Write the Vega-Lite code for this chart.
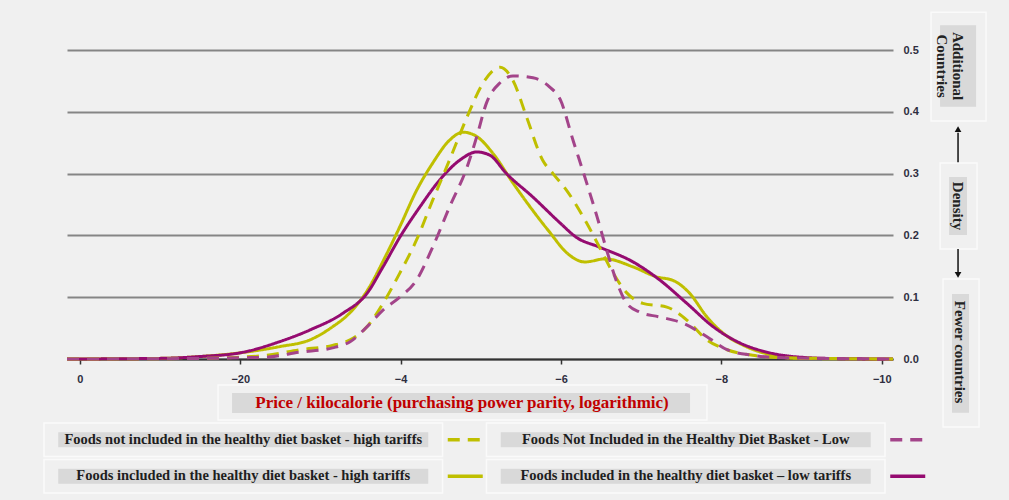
{
  "$schema": "https://vega.github.io/schema/vega-lite/v6.json",
  "width": 826,
  "height": 309,
  "autosize": {"type": "none"},
  "padding": {"left": 67, "top": 50, "right": 116, "bottom": 141},
  "background": "#f0f0f0",
  "config": {"view": {"stroke": null}},
  "datasets": {
    "curves": [
      {"series": "Foods included in the healthy diet basket - high tariffs", "basket": "included", "x": 0.16, "density": 0},
      {"series": "Foods included in the healthy diet basket - high tariffs", "basket": "included", "x": -1, "density": 0.001},
      {"series": "Foods included in the healthy diet basket - high tariffs", "basket": "included", "x": -1.5, "density": 0.004},
      {"series": "Foods included in the healthy diet basket - high tariffs", "basket": "included", "x": -2, "density": 0.01},
      {"series": "Foods included in the healthy diet basket - high tariffs", "basket": "included", "x": -2.49, "density": 0.02},
      {"series": "Foods included in the healthy diet basket - high tariffs", "basket": "included", "x": -2.87, "density": 0.031},
      {"series": "Foods included in the healthy diet basket - high tariffs", "basket": "included", "x": -3.15, "density": 0.052},
      {"series": "Foods included in the healthy diet basket - high tariffs", "basket": "included", "x": -3.37, "density": 0.075},
      {"series": "Foods included in the healthy diet basket - high tariffs", "basket": "included", "x": -3.58, "density": 0.11},
      {"series": "Foods included in the healthy diet basket - high tariffs", "basket": "included", "x": -3.83, "density": 0.171},
      {"series": "Foods included in the healthy diet basket - high tariffs", "basket": "included", "x": -3.99, "density": 0.214},
      {"series": "Foods included in the healthy diet basket - high tariffs", "basket": "included", "x": -4.2, "density": 0.273},
      {"series": "Foods included in the healthy diet basket - high tariffs", "basket": "included", "x": -4.4, "density": 0.317},
      {"series": "Foods included in the healthy diet basket - high tariffs", "basket": "included", "x": -4.61, "density": 0.354},
      {"series": "Foods included in the healthy diet basket - high tariffs", "basket": "included", "x": -4.78, "density": 0.367},
      {"series": "Foods included in the healthy diet basket - high tariffs", "basket": "included", "x": -4.95, "density": 0.36},
      {"series": "Foods included in the healthy diet basket - high tariffs", "basket": "included", "x": -5.15, "density": 0.333},
      {"series": "Foods included in the healthy diet basket - high tariffs", "basket": "included", "x": -5.4, "density": 0.285},
      {"series": "Foods included in the healthy diet basket - high tariffs", "basket": "included", "x": -5.65, "density": 0.24},
      {"series": "Foods included in the healthy diet basket - high tariffs", "basket": "included", "x": -5.86, "density": 0.205},
      {"series": "Foods included in the healthy diet basket - high tariffs", "basket": "included", "x": -6.07, "density": 0.172},
      {"series": "Foods included in the healthy diet basket - high tariffs", "basket": "included", "x": -6.3, "density": 0.157},
      {"series": "Foods included in the healthy diet basket - high tariffs", "basket": "included", "x": -6.55, "density": 0.162},
      {"series": "Foods included in the healthy diet basket - high tariffs", "basket": "included", "x": -6.9, "density": 0.149},
      {"series": "Foods included in the healthy diet basket - high tariffs", "basket": "included", "x": -7.19, "density": 0.133},
      {"series": "Foods included in the healthy diet basket - high tariffs", "basket": "included", "x": -7.4, "density": 0.127},
      {"series": "Foods included in the healthy diet basket - high tariffs", "basket": "included", "x": -7.6, "density": 0.107},
      {"series": "Foods included in the healthy diet basket - high tariffs", "basket": "included", "x": -7.82, "density": 0.068},
      {"series": "Foods included in the healthy diet basket - high tariffs", "basket": "included", "x": -8.02, "density": 0.042},
      {"series": "Foods included in the healthy diet basket - high tariffs", "basket": "included", "x": -8.31, "density": 0.02},
      {"series": "Foods included in the healthy diet basket - high tariffs", "basket": "included", "x": -8.64, "density": 0.006},
      {"series": "Foods included in the healthy diet basket - high tariffs", "basket": "included", "x": -8.98, "density": 0.001},
      {"series": "Foods included in the healthy diet basket - high tariffs", "basket": "included", "x": -10.14, "density": 0},

      {"series": "Foods included in the healthy diet basket – low tariffs", "basket": "included", "x": 0.16, "density": 0},
      {"series": "Foods included in the healthy diet basket – low tariffs", "basket": "included", "x": -1, "density": 0.001},
      {"series": "Foods included in the healthy diet basket – low tariffs", "basket": "included", "x": -1.5, "density": 0.004},
      {"series": "Foods included in the healthy diet basket – low tariffs", "basket": "included", "x": -2, "density": 0.01},
      {"series": "Foods included in the healthy diet basket – low tariffs", "basket": "included", "x": -2.49, "density": 0.028},
      {"series": "Foods included in the healthy diet basket – low tariffs", "basket": "included", "x": -2.87, "density": 0.047},
      {"series": "Foods included in the healthy diet basket – low tariffs", "basket": "included", "x": -3.28, "density": 0.074},
      {"series": "Foods included in the healthy diet basket – low tariffs", "basket": "included", "x": -3.58, "density": 0.106},
      {"series": "Foods included in the healthy diet basket – low tariffs", "basket": "included", "x": -3.78, "density": 0.149},
      {"series": "Foods included in the healthy diet basket – low tariffs", "basket": "included", "x": -3.99, "density": 0.197},
      {"series": "Foods included in the healthy diet basket – low tariffs", "basket": "included", "x": -4.24, "density": 0.246},
      {"series": "Foods included in the healthy diet basket – low tariffs", "basket": "included", "x": -4.49, "density": 0.29},
      {"series": "Foods included in the healthy diet basket – low tariffs", "basket": "included", "x": -4.74, "density": 0.322},
      {"series": "Foods included in the healthy diet basket – low tariffs", "basket": "included", "x": -4.95, "density": 0.335},
      {"series": "Foods included in the healthy diet basket – low tariffs", "basket": "included", "x": -5.11, "density": 0.33},
      {"series": "Foods included in the healthy diet basket – low tariffs", "basket": "included", "x": -5.32, "density": 0.3},
      {"series": "Foods included in the healthy diet basket – low tariffs", "basket": "included", "x": -5.65, "density": 0.262},
      {"series": "Foods included in the healthy diet basket – low tariffs", "basket": "included", "x": -5.99, "density": 0.22},
      {"series": "Foods included in the healthy diet basket – low tariffs", "basket": "included", "x": -6.19, "density": 0.197},
      {"series": "Foods included in the healthy diet basket – low tariffs", "basket": "included", "x": -6.48, "density": 0.181},
      {"series": "Foods included in the healthy diet basket – low tariffs", "basket": "included", "x": -6.9, "density": 0.157},
      {"series": "Foods included in the healthy diet basket – low tariffs", "basket": "included", "x": -7.23, "density": 0.128},
      {"series": "Foods included in the healthy diet basket – low tariffs", "basket": "included", "x": -7.57, "density": 0.09},
      {"series": "Foods included in the healthy diet basket – low tariffs", "basket": "included", "x": -7.9, "density": 0.052},
      {"series": "Foods included in the healthy diet basket – low tariffs", "basket": "included", "x": -8.23, "density": 0.026},
      {"series": "Foods included in the healthy diet basket – low tariffs", "basket": "included", "x": -8.57, "density": 0.011},
      {"series": "Foods included in the healthy diet basket – low tariffs", "basket": "included", "x": -8.98, "density": 0.003},
      {"series": "Foods included in the healthy diet basket – low tariffs", "basket": "included", "x": -9.5, "density": 0.0005},
      {"series": "Foods included in the healthy diet basket – low tariffs", "basket": "included", "x": -10.14, "density": 0},

      {"series": "Foods not included in the healthy diet basket - high tariffs", "basket": "not included", "x": 0.16, "density": 0},
      {"series": "Foods not included in the healthy diet basket - high tariffs", "basket": "not included", "x": -1.5, "density": 0.001},
      {"series": "Foods not included in the healthy diet basket - high tariffs", "basket": "not included", "x": -2, "density": 0.003},
      {"series": "Foods not included in the healthy diet basket - high tariffs", "basket": "not included", "x": -2.33, "density": 0.006},
      {"series": "Foods not included in the healthy diet basket - high tariffs", "basket": "not included", "x": -2.74, "density": 0.015},
      {"series": "Foods not included in the healthy diet basket - high tariffs", "basket": "not included", "x": -3.15, "density": 0.022},
      {"series": "Foods not included in the healthy diet basket - high tariffs", "basket": "not included", "x": -3.37, "density": 0.031},
      {"series": "Foods not included in the healthy diet basket - high tariffs", "basket": "not included", "x": -3.58, "density": 0.052},
      {"series": "Foods not included in the healthy diet basket - high tariffs", "basket": "not included", "x": -3.78, "density": 0.09},
      {"series": "Foods not included in the healthy diet basket - high tariffs", "basket": "not included", "x": -3.99, "density": 0.139},
      {"series": "Foods not included in the healthy diet basket - high tariffs", "basket": "not included", "x": -4.2, "density": 0.193},
      {"series": "Foods not included in the healthy diet basket - high tariffs", "basket": "not included", "x": -4.4, "density": 0.257},
      {"series": "Foods not included in the healthy diet basket - high tariffs", "basket": "not included", "x": -4.61, "density": 0.322},
      {"series": "Foods not included in the healthy diet basket - high tariffs", "basket": "not included", "x": -4.83, "density": 0.392},
      {"series": "Foods not included in the healthy diet basket - high tariffs", "basket": "not included", "x": -5.03, "density": 0.447},
      {"series": "Foods not included in the healthy diet basket - high tariffs", "basket": "not included", "x": -5.24, "density": 0.472},
      {"series": "Foods not included in the healthy diet basket - high tariffs", "basket": "not included", "x": -5.4, "density": 0.451},
      {"series": "Foods not included in the healthy diet basket - high tariffs", "basket": "not included", "x": -5.57, "density": 0.392},
      {"series": "Foods not included in the healthy diet basket - high tariffs", "basket": "not included", "x": -5.77, "density": 0.322},
      {"series": "Foods not included in the healthy diet basket - high tariffs", "basket": "not included", "x": -5.9, "density": 0.3},
      {"series": "Foods not included in the healthy diet basket - high tariffs", "basket": "not included", "x": -6.07, "density": 0.273},
      {"series": "Foods not included in the healthy diet basket - high tariffs", "basket": "not included", "x": -6.32, "density": 0.22},
      {"series": "Foods not included in the healthy diet basket - high tariffs", "basket": "not included", "x": -6.48, "density": 0.181},
      {"series": "Foods not included in the healthy diet basket - high tariffs", "basket": "not included", "x": -6.65, "density": 0.139},
      {"series": "Foods not included in the healthy diet basket - high tariffs", "basket": "not included", "x": -6.82, "density": 0.107},
      {"series": "Foods not included in the healthy diet basket - high tariffs", "basket": "not included", "x": -7.02, "density": 0.09},
      {"series": "Foods not included in the healthy diet basket - high tariffs", "basket": "not included", "x": -7.32, "density": 0.084},
      {"series": "Foods not included in the healthy diet basket - high tariffs", "basket": "not included", "x": -7.57, "density": 0.063},
      {"series": "Foods not included in the healthy diet basket - high tariffs", "basket": "not included", "x": -7.82, "density": 0.031},
      {"series": "Foods not included in the healthy diet basket - high tariffs", "basket": "not included", "x": -8.07, "density": 0.015},
      {"series": "Foods not included in the healthy diet basket - high tariffs", "basket": "not included", "x": -8.39, "density": 0.006},
      {"series": "Foods not included in the healthy diet basket - high tariffs", "basket": "not included", "x": -8.77, "density": 0.002},
      {"series": "Foods not included in the healthy diet basket - high tariffs", "basket": "not included", "x": -10.14, "density": 0},

      {"series": "Foods Not Included in the Healthy Diet Basket - Low", "basket": "not included", "x": 0.16, "density": 0},
      {"series": "Foods Not Included in the Healthy Diet Basket - Low", "basket": "not included", "x": -1.5, "density": 0.001},
      {"series": "Foods Not Included in the Healthy Diet Basket - Low", "basket": "not included", "x": -2, "density": 0.002},
      {"series": "Foods Not Included in the Healthy Diet Basket - Low", "basket": "not included", "x": -2.33, "density": 0.003},
      {"series": "Foods Not Included in the Healthy Diet Basket - Low", "basket": "not included", "x": -2.74, "density": 0.011},
      {"series": "Foods Not Included in the Healthy Diet Basket - Low", "basket": "not included", "x": -3.15, "density": 0.018},
      {"series": "Foods Not Included in the Healthy Diet Basket - Low", "basket": "not included", "x": -3.37, "density": 0.028},
      {"series": "Foods Not Included in the Healthy Diet Basket - Low", "basket": "not included", "x": -3.58, "density": 0.052},
      {"series": "Foods Not Included in the Healthy Diet Basket - Low", "basket": "not included", "x": -3.78, "density": 0.079},
      {"series": "Foods Not Included in the Healthy Diet Basket - Low", "basket": "not included", "x": -3.99, "density": 0.1},
      {"series": "Foods Not Included in the Healthy Diet Basket - Low", "basket": "not included", "x": -4.2, "density": 0.128},
      {"series": "Foods Not Included in the Healthy Diet Basket - Low", "basket": "not included", "x": -4.4, "density": 0.181},
      {"series": "Foods Not Included in the Healthy Diet Basket - Low", "basket": "not included", "x": -4.61, "density": 0.246},
      {"series": "Foods Not Included in the Healthy Diet Basket - Low", "basket": "not included", "x": -4.83, "density": 0.311},
      {"series": "Foods Not Included in the Healthy Diet Basket - Low", "basket": "not included", "x": -4.95, "density": 0.36},
      {"series": "Foods Not Included in the Healthy Diet Basket - Low", "basket": "not included", "x": -5.07, "density": 0.414},
      {"series": "Foods Not Included in the Healthy Diet Basket - Low", "basket": "not included", "x": -5.24, "density": 0.447},
      {"series": "Foods Not Included in the Healthy Diet Basket - Low", "basket": "not included", "x": -5.4, "density": 0.458},
      {"series": "Foods Not Included in the Healthy Diet Basket - Low", "basket": "not included", "x": -5.65, "density": 0.455},
      {"series": "Foods Not Included in the Healthy Diet Basket - Low", "basket": "not included", "x": -5.86, "density": 0.44},
      {"series": "Foods Not Included in the Healthy Diet Basket - Low", "basket": "not included", "x": -5.99, "density": 0.42},
      {"series": "Foods Not Included in the Healthy Diet Basket - Low", "basket": "not included", "x": -6.15, "density": 0.354},
      {"series": "Foods Not Included in the Healthy Diet Basket - Low", "basket": "not included", "x": -6.32, "density": 0.285},
      {"series": "Foods Not Included in the Healthy Diet Basket - Low", "basket": "not included", "x": -6.45, "density": 0.23},
      {"series": "Foods Not Included in the Healthy Diet Basket - Low", "basket": "not included", "x": -6.57, "density": 0.176},
      {"series": "Foods Not Included in the Healthy Diet Basket - Low", "basket": "not included", "x": -6.7, "density": 0.123},
      {"series": "Foods Not Included in the Healthy Diet Basket - Low", "basket": "not included", "x": -6.82, "density": 0.09},
      {"series": "Foods Not Included in the Healthy Diet Basket - Low", "basket": "not included", "x": -6.98, "density": 0.076},
      {"series": "Foods Not Included in the Healthy Diet Basket - Low", "basket": "not included", "x": -7.23, "density": 0.068},
      {"series": "Foods Not Included in the Healthy Diet Basket - Low", "basket": "not included", "x": -7.52, "density": 0.058},
      {"series": "Foods Not Included in the Healthy Diet Basket - Low", "basket": "not included", "x": -7.82, "density": 0.036},
      {"series": "Foods Not Included in the Healthy Diet Basket - Low", "basket": "not included", "x": -8.07, "density": 0.015},
      {"series": "Foods Not Included in the Healthy Diet Basket - Low", "basket": "not included", "x": -8.39, "density": 0.006},
      {"series": "Foods Not Included in the Healthy Diet Basket - Low", "basket": "not included", "x": -8.77, "density": 0.002},
      {"series": "Foods Not Included in the Healthy Diet Basket - Low", "basket": "not included", "x": -10.14, "density": 0}
    ],
    "legendItems": [
      {"series": "Foods not included in the healthy diet basket - high tariffs", "basket": "not included", "tariff": "high"},
      {"series": "Foods included in the healthy diet basket - high tariffs", "basket": "included", "tariff": "high"},
      {"series": "Foods Not Included in the Healthy Diet Basket - Low", "basket": "not included", "tariff": "low"},
      {"series": "Foods included in the healthy diet basket – low tariffs", "basket": "included", "tariff": "low"}
    ]
  },
  "layer": [
    {
      "layer": [
        {
          "data": {"name": "curves"},
          "mark": {"type": "line", "interpolate": "monotone", "strokeWidth": 3, "strokeCap": "butt"},
          "encoding": {
            "x": {
              "field": "x", "type": "quantitative",
              "scale": {"domain": [0.16, -10.14], "nice": false, "zero": false},
              "axis": {
                "values": [0, -2, -4, -6, -8, -10],
                "labelExpr": "datum.value == -2 ? '−20' : (datum.value == 0 ? '0' : '−' + abs(datum.value))",
                "title": null, "grid": false,
                "domainColor": "#333333", "domainWidth": 2,
                "tickColor": "#333333", "tickSize": 5, "tickWidth": 1.5,
                "labelFont": "Liberation Sans", "labelFontWeight": "bold", "labelFontSize": 11,
                "labelColor": "#2e2e40", "labelPadding": 9
              }
            },
            "y": {
              "field": "density", "type": "quantitative",
              "scale": {"domain": [0, 0.5], "nice": false},
              "axis": {
                "orient": "right", "values": [0, 0.1, 0.2, 0.3, 0.4, 0.5], "format": ".1f",
                "title": null, "grid": true, "gridColor": "#858585", "gridWidth": 1.8,
                "domain": false, "ticks": false,
                "labelFont": "Liberation Sans", "labelFontWeight": "bold", "labelFontSize": 11,
                "labelColor": "#2e2e40", "labelPadding": 10
              }
            },
            "color": {
              "field": "series", "type": "nominal", "legend": null,
              "scale": {
                "domain": [
                  "Foods not included in the healthy diet basket - high tariffs",
                  "Foods included in the healthy diet basket - high tariffs",
                  "Foods Not Included in the Healthy Diet Basket - Low",
                  "Foods included in the healthy diet basket – low tariffs"
                ],
                "range": ["#bfbf00", "#bfbf00", "#a3448a", "#950b70"]
              }
            },
            "strokeDash": {
              "field": "basket", "type": "nominal", "legend": null,
              "scale": {"domain": ["not included", "included"], "range": [[12, 8], [1, 0]]}
            },
            "detail": {"field": "series"}
          }
        },
        {
          "data": {"values": [{}]},
          "mark": {"type": "rect", "fillOpacity": 0, "stroke": "#fafafa", "strokeWidth": 1.5},
          "encoding": {"x": {"datum": -1.723}, "x2": {"datum": -7.82}, "y": {"datum": -0.0421}, "y2": {"datum": -0.0987}}
        },
        {
          "data": {"values": [{}]},
          "mark": {"type": "rect", "fill": "#d9d9d9"},
          "encoding": {"x": {"datum": -1.898}, "x2": {"datum": -7.609}, "y": {"datum": -0.055}, "y2": {"datum": -0.0874}}
        },
        {
          "data": {"values": [{}]},
          "mark": {"type": "text", "text": "Price / kilocalorie (purchasing power parity, logarithmic)", "font": "Liberation Serif", "fontWeight": "bold", "fontSize": 17, "color": "#c00000", "align": "center", "baseline": "middle"},
          "encoding": {"x": {"datum": -4.766}, "y": {"datum": -0.0712}}
        },
        {
          "data": {"values": [{}]},
          "mark": {"type": "rect", "fillOpacity": 0, "stroke": "#fafafa", "strokeWidth": 1.5},
          "encoding": {"x": {"datum": -10.614}, "x2": {"datum": -11.30}, "y": {"datum": 0.561}, "y2": {"datum": 0.385}}
        },
        {
          "data": {"values": [{}]},
          "mark": {"type": "rect", "fill": "#d9d9d9"},
          "encoding": {"x": {"datum": -10.727}, "x2": {"datum": -11.176}, "y": {"datum": 0.54}, "y2": {"datum": 0.408}}
        },
        {
          "data": {"values": [{}]},
          "mark": {"type": "text", "text": ["Additional", "Countries"], "angle": 90, "lineHeight": 16, "font": "Liberation Serif", "fontWeight": "bold", "fontSize": 15, "color": "#222222", "align": "center", "baseline": "middle"},
          "encoding": {"x": {"datum": -10.951}, "y": {"datum": 0.474}}
        },
        {
          "data": {"values": [{}]},
          "mark": {"type": "rule", "color": "#111111", "strokeWidth": 1.5},
          "encoding": {"x": {"datum": -10.951}, "y": {"datum": 0.366}, "y2": {"datum": 0.317}}
        },
        {
          "data": {"values": [{}]},
          "mark": {"type": "point", "shape": "triangle-up", "filled": true, "color": "#111111", "size": 45, "opacity": 1},
          "encoding": {"x": {"datum": -10.951}, "y": {"datum": 0.372}}
        },
        {
          "data": {"values": [{}]},
          "mark": {"type": "rect", "fillOpacity": 0, "stroke": "#fafafa", "strokeWidth": 1.5},
          "encoding": {"x": {"datum": -10.727}, "x2": {"datum": -11.188}, "y": {"datum": 0.317}, "y2": {"datum": 0.178}}
        },
        {
          "data": {"values": [{}]},
          "mark": {"type": "rect", "fill": "#d9d9d9"},
          "encoding": {"x": {"datum": -10.839}, "x2": {"datum": -11.063}, "y": {"datum": 0.2945}, "y2": {"datum": 0.2006}}
        },
        {
          "data": {"values": [{}]},
          "mark": {"type": "text", "text": "Density", "angle": 90, "font": "Liberation Serif", "fontWeight": "bold", "fontSize": 15, "color": "#222222", "align": "center", "baseline": "middle"},
          "encoding": {"x": {"datum": -10.951}, "y": {"datum": 0.2476}}
        },
        {
          "data": {"values": [{}]},
          "mark": {"type": "rule", "color": "#111111", "strokeWidth": 1.5},
          "encoding": {"x": {"datum": -10.951}, "y": {"datum": 0.178}, "y2": {"datum": 0.14}}
        },
        {
          "data": {"values": [{}]},
          "mark": {"type": "point", "shape": "triangle-down", "filled": true, "color": "#111111", "size": 45, "opacity": 1},
          "encoding": {"x": {"datum": -10.951}, "y": {"datum": 0.136}}
        },
        {
          "data": {"values": [{}]},
          "mark": {"type": "rect", "fillOpacity": 0, "stroke": "#fafafa", "strokeWidth": 1.5},
          "encoding": {"x": {"datum": -10.764}, "x2": {"datum": -11.213}, "y": {"datum": 0.1294}, "y2": {"datum": -0.110}}
        },
        {
          "data": {"values": [{}]},
          "mark": {"type": "rect", "fill": "#d9d9d9"},
          "encoding": {"x": {"datum": -10.876}, "x2": {"datum": -11.088}, "y": {"datum": 0.105}, "y2": {"datum": -0.087}}
        },
        {
          "data": {"values": [{}]},
          "mark": {"type": "text", "text": "Fewer countries", "angle": 90, "font": "Liberation Serif", "fontWeight": "bold", "fontSize": 15, "color": "#222222", "align": "center", "baseline": "middle"},
          "encoding": {"x": {"datum": -10.976}, "y": {"datum": 0.0113}}
        }
      ]
    },
    {
      "data": {"name": "legendItems"},
      "encoding": {
        "x": {
          "field": "tariff", "type": "nominal", "axis": null,
          "scale": {"type": "band", "domain": ["high", "low"], "range": [-23, 818], "paddingInner": 0.0994, "paddingOuter": 0}
        },
        "y": {
          "field": "basket", "type": "nominal", "axis": null,
          "scale": {"type": "band", "domain": ["not included", "included"], "range": [373, 443], "paddingInner": 0.082, "paddingOuter": 0}
        }
      },
      "layer": [
        {
          "mark": {"type": "rect", "fillOpacity": 0, "stroke": "#fafafa", "strokeWidth": 1.5}
        },
        {
          "mark": {"type": "rect", "fill": "#d9d9d9", "width": 370, "height": 15}
        },
        {
          "mark": {"type": "text", "font": "Liberation Serif", "fontWeight": "bold", "fontSize": 14.5, "color": "#1e1e1e", "align": "center", "baseline": "middle"},
          "encoding": {"text": {"field": "series"}}
        },
        {
          "mark": {"type": "point", "shape": "M-1,0L1,0", "filled": false, "size": 1225, "strokeWidth": 3.5, "strokeCap": "butt", "opacity": 1, "xOffset": 222},
          "encoding": {
            "color": {
              "field": "series", "type": "nominal", "legend": null,
              "scale": {
                "domain": [
                  "Foods not included in the healthy diet basket - high tariffs",
                  "Foods included in the healthy diet basket - high tariffs",
                  "Foods Not Included in the Healthy Diet Basket - Low",
                  "Foods included in the healthy diet basket – low tariffs"
                ],
                "range": ["#bfbf00", "#bfbf00", "#a3448a", "#950b70"]
              }
            },
            "strokeDash": {
              "field": "basket", "type": "nominal", "legend": null,
              "scale": {"domain": ["not included", "included"], "range": [[13, 8], [1, 0]]}
            }
          }
        }
      ]
    }
  ],
  "resolve": {"scale": {"x": "independent", "y": "independent"}}
}
